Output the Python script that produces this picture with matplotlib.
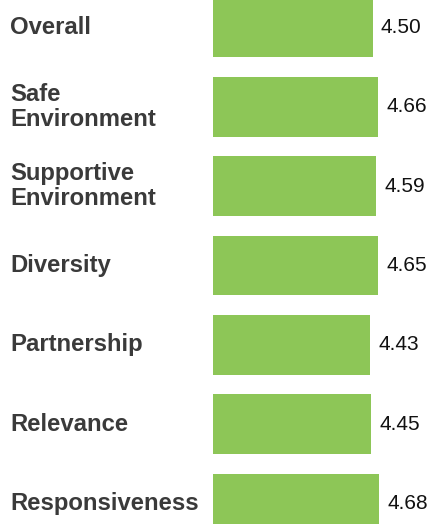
import matplotlib.pyplot as plt
import matplotlib.transforms as mtransforms

# Survey scores per category
categories = ['Overall', 'Safe\nEnvironment', 'Supportive\nEnvironment', 'Diversity',
              'Partnership', 'Relevance', 'Responsiveness']
scores = [4.50, 4.66, 4.59, 4.65, 4.43, 4.45, 4.68]

plt.rcParams['font.family'] = ['Liberation Sans', 'DejaVu Sans']

fig = plt.figure(figsize=(4.30, 5.24), dpi=100)
ax = fig.add_axes([213 / 430, 0, 1 - 213 / 430, 1])

pos = list(range(len(categories)))
bars = ax.barh(pos, scores, height=0.75, color='#8dc657', edgecolor='none')

ax.set_xlim(0, 6.12)
ax.set_ylim(6.259, -0.347)
ax.axis('off')

# value labels just past the bar ends
for b, v in zip(bars, scores):
    ax.annotate(f'{v:.2f}', xy=(b.get_width(), b.get_y() + b.get_height() / 2),
                xytext=(6, 0), textcoords='offset points',
                ha='left', va='center', fontsize=15, color='#111111')

# category names pinned to the left edge of the figure
trans = mtransforms.blended_transform_factory(fig.transFigure, ax.transData)
for p, name in zip(pos, categories):
    ax.text(10 / 430, p, name, transform=trans, ha='left', va='center',
            fontsize=17.2, fontweight='bold', color='#3a3a3a', linespacing=1.12)

fig.savefig('out.png', dpi=100)
